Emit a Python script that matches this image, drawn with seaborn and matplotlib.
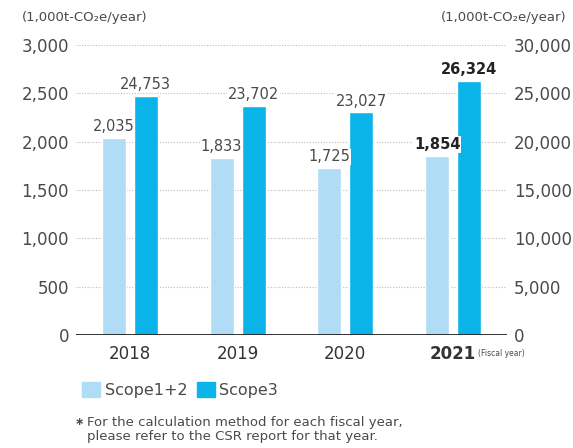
import pandas as pd
import matplotlib.pyplot as plt
import seaborn as sns
from matplotlib.patches import Patch

# Données
years = ["2018", "2019", "2020", "2021"]
scope12 = [2035, 1833, 1725, 1854]
scope3 = [24753, 23702, 23027, 26324]

light = "#b0dcf5"
dark = "#0ab4e9"
grey = "#4a4a4a"

sns.set_style("white")
plt.rcParams["font.family"] = ["DejaVu Sans"]

# Scope3 sur l'axe de droite (x10), tracé à l'échelle de gauche
df = pd.DataFrame({
    "year": years * 2,
    "series": ["Scope1+2"] * 4 + ["Scope3"] * 4,
    "value": scope12 + [v / 10 for v in scope3],
})

fig = plt.figure(figsize=(5.73, 4.48), dpi=100)
ax = fig.add_axes([0.1326, 0.2522, 0.7522, 0.6474])

sns.barplot(data=df, x="year", y="value", hue="series", order=years,
            hue_order=["Scope1+2", "Scope3"], palette=[light, dark],
            width=0.594, gap=0.25, errorbar=None, legend=False,
            saturation=1, ax=ax, zorder=3)

ax.set_xlim(-0.5, 3.5)
ax.set_ylim(0, 3000)
ax.set_yticks(range(0, 3001, 500))
ax.set_yticklabels([f"{v:,}" for v in range(0, 3001, 500)])
for v in range(500, 3001, 500):
    ax.axhline(v, color="#bdbdbd", lw=0.8, ls=(0, (1, 1.5)), zorder=1)
ax.axhline(0, color="#222222", lw=1.3, zorder=4)
for s in ax.spines.values():
    s.set_visible(False)
ax.set_xlabel("")
ax.set_ylabel("")
ax.tick_params(axis="y", length=0, pad=5, labelsize=12, labelcolor=grey)
ax.tick_params(axis="x", length=0, pad=7, labelsize=12, labelcolor="#333333")
for lbl in ax.get_xticklabels():
    if lbl.get_text() == "2021":
        lbl.set_fontweight("bold")

ax2 = ax.twinx()
ax2.set_ylim(0, 30000)
ax2.set_yticks(range(0, 30001, 5000))
ax2.set_yticklabels([f"{v:,}" for v in range(0, 30001, 5000)])
for s in ax2.spines.values():
    s.set_visible(False)
ax2.tick_params(axis="y", length=0, pad=5, labelsize=12, labelcolor=grey)

# Étiquettes de valeurs
for cont, vals in zip(ax.containers, [scope12, scope3]):
    for bar, v in zip(cont, vals):
        bold = bar is cont[-1]
        ax.text(bar.get_x() + bar.get_width() / 2, bar.get_height() + 40,
                f"{v:,}", ha="center", va="bottom", fontsize=10.5,
                color="#222222" if bold else grey,
                fontweight="bold" if bold else "normal", zorder=5,
                bbox=dict(facecolor="white", edgecolor="none", pad=0.5))

fig.text(478 / 573, 1 - 353 / 448, "(Fiscal year)", fontsize=5.5,
         color=grey, va="center", ha="left")
fig.text(22 / 573, 1 - 17 / 448, "(1,000t-CO\u2082e/year)", fontsize=9.5,
         color=grey, va="center", ha="left")
fig.text(566 / 573, 1 - 17 / 448, "(1,000t-CO\u2082e/year)", fontsize=9.5,
         color=grey, va="center", ha="right")

handles = [Patch(color=light, label="Scope1+2"), Patch(color=dark, label="Scope3")]
fig.legend(handles=handles, loc="center left", bbox_to_anchor=(68 / 573, 1 - 390 / 448),
           ncol=2, frameon=False, fontsize=11.5, handlelength=1.1, handleheight=1.1,
           handletextpad=0.3, columnspacing=0.6, labelcolor=grey)

fig.text(75 / 573, 1 - 422 / 448, "\u2217", fontsize=8, color=grey, va="center",
         fontweight="bold")
fig.text(87 / 573, 1 - 429 / 448,
         "For the calculation method for each fiscal year,\nplease refer to the CSR report for that year.",
         fontsize=9.5, color=grey, va="center", ha="left", linespacing=1.1)

fig.savefig("out.png", dpi=100)
